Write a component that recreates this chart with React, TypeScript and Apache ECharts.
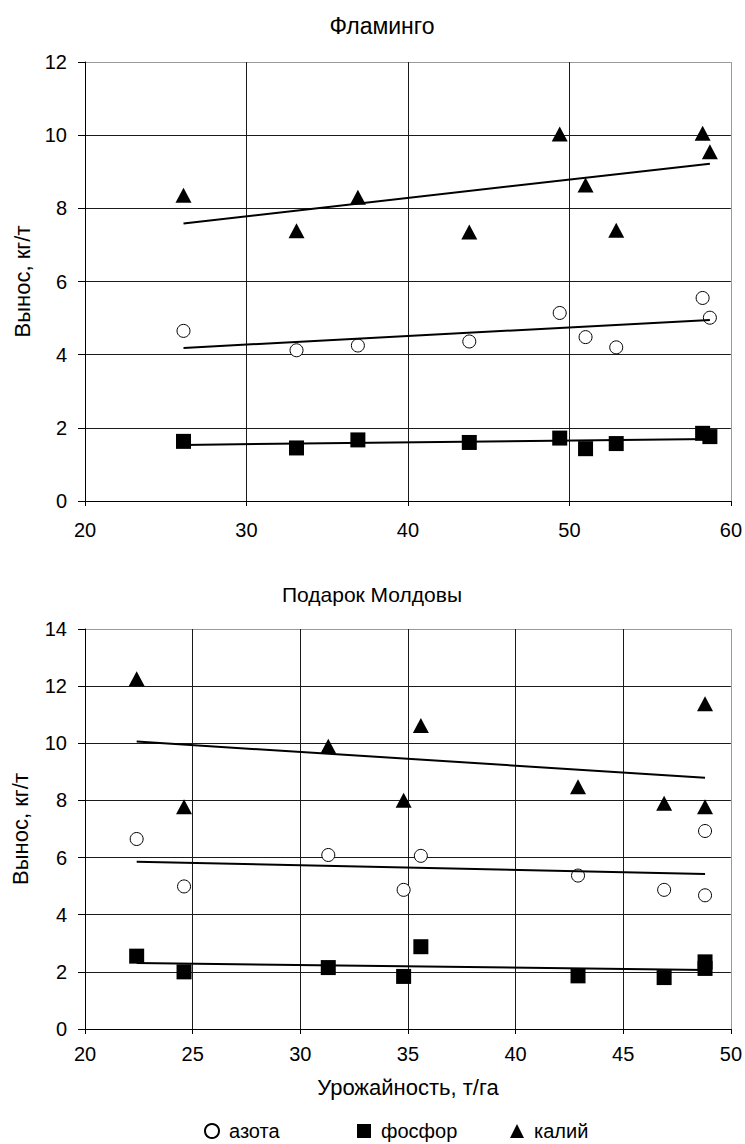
import React, { useEffect, useRef } from "react";
import * as echarts from "echarts";

// Фламинго
const flamX = [26.1, 33.1, 36.9, 43.8, 49.4, 51.0, 52.9, 58.25, 58.7];
const flamN = [4.65, 4.12, 4.25, 4.36, 5.14, 4.48, 4.2, 5.55, 5.01];
const flamP = [1.63, 1.45, 1.67, 1.6, 1.72, 1.43, 1.57, 1.85, 1.76];
const flamK = [8.36, 7.39, 8.3, 7.35, 10.03, 8.64, 7.4, 10.05, 9.55];

// Подарок Молдовы
const podX = [22.4, 24.6, 31.3, 34.8, 35.6, 42.9, 46.9, 48.8, 48.8];
const podN = [6.65, 4.99, 6.09, 4.87, 6.06, 5.37, 4.87, 6.93, 4.68];
const podP = [2.55, 2.0, 2.15, 1.84, 2.88, 1.86, 1.8, 2.35, 2.12];
const podK = [12.26, 7.78, 9.9, 8.01, 10.62, 8.48, 7.9, 11.38, 7.78];

const seriesNames = ["азота", "фосфор", "калий"];
const titles = ["Фламинго", "Подарок Молдовы"];
const yName = "Вынос, кг/т";
const xName = "Урожайность, т/га";

const FONT = "'Liberation Sans', Arial, sans-serif";

function trend(xs: number[], ys: number[]) {
  const n = xs.length;
  const mx = xs.reduce((a, b) => a + b, 0) / n;
  const my = ys.reduce((a, b) => a + b, 0) / n;
  let sxy = 0;
  let sxx = 0;
  for (let i = 0; i < n; i++) {
    sxy += (xs[i] - mx) * (ys[i] - my);
    sxx += (xs[i] - mx) * (xs[i] - mx);
  }
  const b = sxy / sxx;
  const a = my - b * mx;
  const x0 = Math.min(...xs);
  const x1 = Math.max(...xs);
  return [
    [x0, a + b * x0],
    [x1, a + b * x1],
  ];
}

const pairs = (xs: number[], ys: number[]) => xs.map((x, i) => [x, ys[i]]);

const markerStyles = [
  { symbol: "circle", symbolSize: 13, itemStyle: { color: "#fff", borderColor: "#000", borderWidth: 1, opacity: 1 } },
  { symbol: "rect", symbolSize: 15, itemStyle: { color: "#000", opacity: 1 } },
  { symbol: "triangle", symbolSize: [16, 15], itemStyle: { color: "#000", opacity: 1 } },
];

function buildSeries(idx: number, xs: number[], ys: number[][]) {
  const out: any[] = [];
  ys.forEach((vals, k) => {
    out.push({
      type: "scatter",
      name: seriesNames[k],
      xAxisIndex: idx,
      yAxisIndex: idx,
      data: pairs(xs, vals),
      ...markerStyles[k],
      z: 2,
    });
  });
  ys.forEach((vals) => {
    out.push({
      type: "line",
      xAxisIndex: idx,
      yAxisIndex: idx,
      data: trend(xs, vals),
      symbol: "none",
      lineStyle: { color: "#000", width: 2 },
      z: 3,
      silent: true,
    });
  });
  return out;
}

function splitColors(count: number) {
  const c: string[] = [];
  for (let i = 0; i < count; i++) c.push(i === count - 1 ? "#9a9a9a" : "#1a1a1a");
  return c;
}

const legendLefts = [204, 357, 510];

export default function App() {
  const ref = useRef<HTMLDivElement>(null);
  useEffect(() => {
    document.body.style.margin = "0";
    const chart = echarts.init(ref.current!, null, { renderer: "svg" });
    const axisLabel = { color: "#000", fontSize: 20, fontFamily: FONT };
    const nameStyle = { color: "#000", fontSize: 22, fontFamily: FONT };
    const yAxisCommon = {
      type: "value",
      min: 0,
      interval: 2,
      name: yName,
      nameLocation: "middle",
      nameGap: 52,
      nameTextStyle: nameStyle,
      axisLine: { show: true, lineStyle: { color: "#000", width: 1 } },
      axisTick: { show: true, length: 7, lineStyle: { color: "#000" } },
      axisLabel: { ...axisLabel, margin: 18 },
    };
    const xAxisCommon = {
      type: "value",
      axisLine: { show: true, lineStyle: { color: "#000", width: 1 }, onZero: false },
      axisTick: { show: true, length: 5, lineStyle: { color: "#000" } },
    };
    chart.setOption({
      animation: false,
      backgroundColor: "#fff",
      title: [
        {
          text: titles[0],
          left: 377,
          top: 9,
          textAlign: "center",
          textStyle: { color: "#000", fontSize: 23, fontWeight: "normal", fontFamily: FONT },
        },
        {
          text: titles[1],
          left: 367,
          top: 579,
          textAlign: "center",
          textStyle: { color: "#000", fontSize: 21, fontWeight: "normal", fontFamily: FONT },
        },
      ],
      legend: seriesNames.map((nm, k) => ({
        left: legendLefts[k],
        top: 1121,
        padding: 0,
        itemWidth: 14,
        itemHeight: 14,
        itemGap: 10,
        textStyle: { color: "#000", fontSize: 20, fontFamily: FONT, padding: [0, 0, 0, 5] },
        data: [{ name: nm, icon: ["circle", "rect", "triangle"][k] }],
      })),
      grid: [
        { left: 85, right: 11, top: 62, height: 439 },
        { left: 85, right: 11, top: 629, height: 400 },
      ],
      xAxis: [
        {
          ...xAxisCommon,
          gridIndex: 0,
          min: 20,
          max: 60,
          interval: 10,
          axisLabel: { ...axisLabel, margin: 19 },
          splitLine: { show: true, lineStyle: { color: splitColors(5), width: 1 } },
        },
        {
          ...xAxisCommon,
          gridIndex: 1,
          min: 20,
          max: 50,
          interval: 5,
          name: xName,
          nameLocation: "middle",
          nameGap: 47,
          nameTextStyle: nameStyle,
          axisLabel: { ...axisLabel, margin: 15 },
          splitLine: { show: true, lineStyle: { color: splitColors(7), width: 1 } },
        },
      ],
      yAxis: [
        {
          ...yAxisCommon,
          gridIndex: 0,
          max: 12,
          splitLine: { show: true, lineStyle: { color: splitColors(7), width: 1 } },
        },
        {
          ...yAxisCommon,
          gridIndex: 1,
          max: 14,
          nameGap: 54,
          splitLine: { show: true, lineStyle: { color: splitColors(8), width: 1 } },
        },
      ],
      series: [
        ...buildSeries(0, flamX, [flamN, flamP, flamK]),
        ...buildSeries(1, podX, [podN, podP, podK]),
      ],
    });
    return () => chart.dispose();
  }, []);
  return (
    <div
      ref={ref}
      style={{ position: "absolute", left: 0, top: 0, width: 745, height: 1144 }}
    />
  );
}
